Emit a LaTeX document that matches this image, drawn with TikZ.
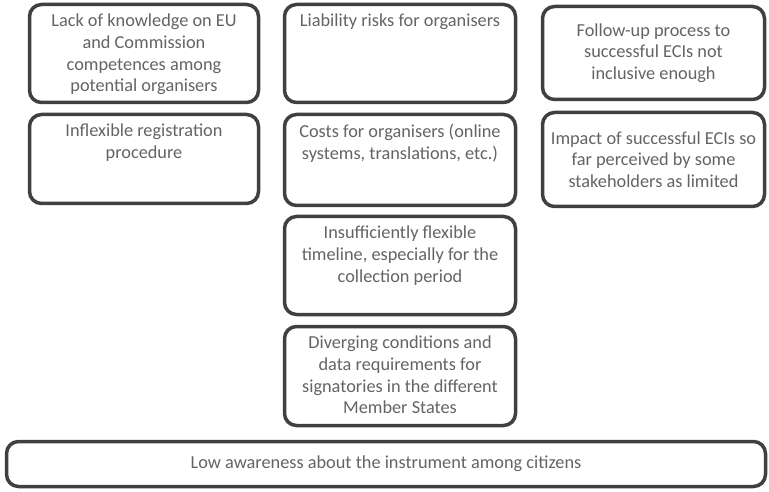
\documentclass[tikz,border=0pt]{standalone}
\usepackage{fontspec}
\setmainfont{Carlito}
\usepackage{tikz}
\definecolor{edge}{RGB}{64,64,64}
\definecolor{ink}{RGB}{100,100,100}

\tikzset{
	box/.style={rectangle,rounded corners=12pt,draw=edge,line width=3.5pt,fill=white,inner sep=0pt},
	txt/.style={text=ink,align=center,inner sep=0pt,font=\fontsize{18.3}{21.7}\selectfont}
}

\begin{document}
\begin{tikzpicture}[x=1pt,y=1pt]
	\useasboundingbox (0,0) rectangle (769,-492);
	% boxes
	\node[box,minimum width=229pt,minimum height=98pt] (lack) at (144,-53.5) {};
	\node[box,minimum width=229pt,minimum height=89pt] (inflex) at (144,-159) {};
	\node[box,minimum width=231pt,minimum height=98pt] (liab) at (400,-53.5) {};
	\node[box,minimum width=231pt,minimum height=91pt] (costs) at (400,-160) {};
	\node[box,minimum width=231pt,minimum height=98pt] (insuff) at (400,-265.5) {};
	\node[box,minimum width=231pt,minimum height=99pt] (diverg) at (400,-376) {};
	\node[box,minimum width=222pt,minimum height=93pt] (follow) at (653.5,-53) {};
	\node[box,minimum width=222pt,minimum height=94pt] (impact) at (653.5,-159.5) {};
	\node[box,minimum width=759pt,minimum height=45pt] (low) at (386,-464) {};
	
	% texts
	\node[txt,anchor=north] (lacktxt) at ([yshift=-11pt]lack.north) {Lack of knowledge on EU\\and Commission\\competences among\\potential organisers};
	\node[txt,anchor=north] (inflextxt) at ([yshift=-11pt]inflex.north) {Inflexible registration\\procedure};
	\node[txt,anchor=north] (liabtxt) at ([yshift=-11pt]liab.north) {Liability risks for organisers};
	\node[txt,anchor=north] (coststxt) at ([yshift=-11pt]costs.north) {Costs for organisers (online\\systems, translations, etc.)};
	\node[txt,anchor=north] (insufftxt) at ([yshift=-11pt]insuff.north) {Insufficiently flexible\\timeline, especially for the\\collection period};
	\node[txt,anchor=north] (divergtxt) at ([yshift=-11pt]diverg.north) {Diverging conditions and\\data requirements for\\signatories in the different\\Member States};
	\node[txt] (followtxt) at (follow) {Follow-up process to\\successful ECIs not\\inclusive enough};
	\node[txt] (impacttxt) at (impact) {Impact of successful ECIs so\\far perceived by some\\stakeholders as limited};
	\node[txt] (lowtxt) at (low) {Low awareness about the instrument among citizens};
\end{tikzpicture}
\end{document}
